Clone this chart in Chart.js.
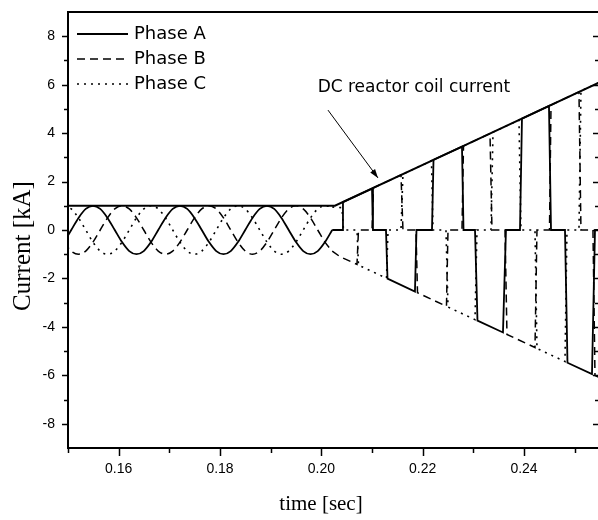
<!DOCTYPE html>
<html>
<head>
<meta charset="utf-8">
<script src="https://cdn.jsdelivr.net/npm/chart.js@4.4.0/dist/chart.umd.min.js"></script>
<style>
  html, body { margin: 0; padding: 0; background: #fff; overflow: hidden; }
  #wrap { position: relative; width: 602px; height: 520px; }
</style>
</head>
<body>
<div id="wrap"><canvas id="chart"></canvas></div>
<script>
// ============ Data ============
// pre-fault sinusoids share one time grid (s), 30 deg steps
const preTime = [
  0.14921, 0.15064, 0.15207, 0.15350, 0.15493, 0.15636, 0.15780, 0.15923, 0.16066, 0.16209,
  0.16352, 0.16495, 0.16638, 0.16781, 0.16924, 0.17067, 0.17210, 0.17353, 0.17496, 0.17640,
  0.17783, 0.17926, 0.18069, 0.18212, 0.18355, 0.18498, 0.18641, 0.18784, 0.18927, 0.19070,
  0.19213, 0.19356, 0.19500, 0.19643, 0.19786, 0.19929, 0.20072, 0.20215
];
const preA = [
  -0.5,
  0, 0.5, 0.87, 1, 0.87, 0.5, 0, -0.5, -0.87, -1, -0.87, -0.5,
  0, 0.5, 0.87, 1, 0.87, 0.5, 0, -0.5, -0.87, -1, -0.87, -0.5,
  0, 0.5, 0.87, 1, 0.87, 0.5, 0, -0.5, -0.87, -1, -0.87, -0.5,
  0
];
const preB = [
  -0.5,
  -0.87, -1, -0.87, -0.5, 0, 0.5, 0.87, 1, 0.87, 0.5, 0, -0.5,
  -0.87, -1, -0.87, -0.5, 0, 0.5, 0.87, 1, 0.87, 0.5, 0, -0.5,
  -0.87, -1, -0.87, -0.5, 0, 0.5, 0.87, 1, 0.87, 0.5, 0, -0.5,
  -0.87
];
const preC = [
  1,
  0.87, 0.5, 0, -0.5, -0.87, -1, -0.87, -0.5, 0, 0.5, 0.87, 1,
  0.87, 0.5, 0, -0.5, -0.87, -1, -0.87, -0.5, 0, 0.5, 0.87, 1,
  0.87, 0.5, 0, -0.5, -0.87, -1, -0.87, -0.5, 0, 0.5, 0.87, 1,
  0.95
];

// after the fault: phase currents commutate between +Idc, 0 and -Idc
const postTimeA = [
  0.20215, 0.20418, 0.20427, 0.21000, 0.21019, 0.21276, 0.21306, 0.21848, 0.21878, 0.22184,
  0.22214, 0.22776, 0.22806, 0.23033, 0.23082, 0.23585, 0.23644, 0.23921, 0.23960, 0.24493,
  0.24533, 0.24809, 0.24858, 0.25342, 0.25401, 0.25600
];
const postA = [
  0, 0, 1.15, 1.71, 0, 0, -2.01, -2.54, 0, 0,
  2.90, 3.44, 0, 0, -3.74, -4.23, 0, 0, 4.60, 5.12,
  0, 0, -5.48, -5.95, 0, 0
];
const postTimeB = [
  0.20215, 0.20368, 0.20704, 0.20733, 0.21000, 0.21029, 0.21572, 0.21611, 0.21868, 0.21898,
  0.22470, 0.22500, 0.22776, 0.22806, 0.23329, 0.23368, 0.23625, 0.23664, 0.24217, 0.24256,
  0.24503, 0.24533, 0.25085, 0.25124, 0.25361, 0.25401, 0.25600
];
const postB = [
  -0.87, -1.10, -1.42, 0, 0, 1.74, 2.27, 0, 0, -2.59,
  -3.15, 0, 0, 3.47, 3.98, 0, 0, -4.31, -4.85, 0,
  0, 5.16, 5.70, 0, 0, -6.01, -6.20
];
const postTimeC = [
  0.20215, 0.20408, 0.20437, 0.20704, 0.20733, 0.21286, 0.21316, 0.21572, 0.21611, 0.22174,
  0.22204, 0.22460, 0.22500, 0.23033, 0.23072, 0.23348, 0.23388, 0.23901, 0.23940, 0.24217,
  0.24256, 0.24809, 0.24848, 0.25085, 0.25124, 0.25600
];
const postC = [
  0.95, 0.92, 0, 0, -1.45, -1.99, 0, 0, 2.31, 2.86,
  0, 0, -3.18, -3.70, 0, 0, 4.04, 4.54, 0, 0,
  -4.89, -5.43, 0, 0, 5.74, 6.20
];

// DC reactor coil current
const dcTime = [0.1490, 0.20269, 0.22776, 0.2560];
const dcCurrent = [1.0, 1.0, 3.44, 6.20];

// axes
const xMajorTicks = [0.16, 0.18, 0.20, 0.22, 0.24];
const xTickLabels = ['0.16', '0.18', '0.20', '0.22', '0.24'];
const xMinorTicks = [0.15, 0.17, 0.19, 0.21, 0.23, 0.25];
const yMajorTicks = [-8, -6, -4, -2, 0, 2, 4, 6, 8];
const yTickLabels = ['-8', '-6', '-4', '-2', '0', '2', '4', '6', '8'];
const yMinorTicks = [-7, -5, -3, -1, 1, 3, 5, 7];

const phaseLabels = ['Phase A', 'Phase B', 'Phase C'];
const noteText = 'DC reactor coil current';

// ============ Helpers ============
function series(times, values) {
  return times.map((t, i) => ({ x: t, y: values[i] }));
}

const DASH_A = [];
const DASH_B = [8, 5];
const DASH_C = [2, 5];

const base = { borderColor: '#000', pointRadius: 0, fill: false, borderCapStyle: 'butt' };

const datasets = [
  { ...base, label: phaseLabels[0], data: series(preTime, preA), borderWidth: 1.8, borderDash: DASH_A, cubicInterpolationMode: 'monotone' },
  { ...base, label: phaseLabels[1], data: series(preTime, preB), borderWidth: 1.5, borderDash: DASH_B, cubicInterpolationMode: 'monotone' },
  { ...base, label: phaseLabels[2], data: series(preTime, preC), borderWidth: 1.6, borderDash: DASH_C, cubicInterpolationMode: 'monotone' },
  { ...base, label: '', data: series(postTimeA, postA), borderWidth: 1.8, borderDash: DASH_A, tension: 0 },
  { ...base, label: '', data: series(postTimeB, postB), borderWidth: 1.5, borderDash: DASH_B, tension: 0 },
  { ...base, label: '', data: series(postTimeC, postC), borderWidth: 1.6, borderDash: DASH_C, tension: 0 },
  { ...base, label: '', data: series(dcTime, dcCurrent), borderWidth: 2, tension: 0 }
];

// ============ Plugins ============
const framePlugin = {
  id: 'frame',
  afterDatasetsDraw(chart) {
    const { ctx: c, chartArea: a, scales: { x, y } } = chart;
    const seg = (x1, y1, x2, y2) => { c.beginPath(); c.moveTo(x1, y1); c.lineTo(x2, y2); c.stroke(); };
    c.save();
    c.strokeStyle = '#000';
    c.setLineDash([]);
    c.lineWidth = 2;
    c.strokeRect(a.left, a.top, a.right - a.left, a.bottom - a.top);

    c.lineWidth = 1.5;
    yMajorTicks.forEach(v => {
      const p = Math.round(y.getPixelForValue(v)) + 0.5;
      seg(a.left - 6, p, a.left, p);
      seg(a.right, p, a.right - 7, p);
    });
    yMinorTicks.forEach(v => {
      const p = Math.round(y.getPixelForValue(v)) + 0.5;
      seg(a.left - 4, p, a.left, p);
      seg(a.right, p, a.right - 5, p);
    });
    xMajorTicks.forEach(v => {
      const p = Math.round(x.getPixelForValue(v)) + 0.5;
      seg(p, a.bottom, p, a.bottom + 8);
    });
    xMinorTicks.forEach(v => {
      const p = Math.round(x.getPixelForValue(v)) + 0.5;
      seg(p, a.bottom, p, a.bottom + 5);
    });
    c.restore();
  }
};

const legendPlugin = {
  id: 'insideLegend',
  afterDatasetsDraw(chart) {
    const c = chart.ctx;
    const rows = chart.data.datasets.filter(d => d.label);
    c.save();
    c.font = '18px "DejaVu Sans"';
    c.textBaseline = 'middle';
    c.fillStyle = '#000';
    rows.forEach((ds, i) => {
      const yy = 34 + i * 25;
      c.beginPath();
      c.setLineDash(ds.borderDash || []);
      c.lineWidth = ds.borderWidth;
      c.strokeStyle = ds.borderColor;
      c.moveTo(77, yy);
      c.lineTo(128, yy);
      c.stroke();
      c.setLineDash([]);
      c.fillText(ds.label, 134, yy);
    });
    c.restore();
  }
};

// label + arrow pointing at the DC current ramp (data coordinates)
const notePos = { t: 0.19927, v: 5.70 };
const arrowFrom = { t: 0.20131, v: 4.95 };
const arrowTo = { t: 0.21118, v: 2.15 };

const notePlugin = {
  id: 'note',
  afterDatasetsDraw(chart) {
    const { ctx: c, scales: { x, y } } = chart;
    c.save();
    c.fillStyle = '#000';
    c.font = '17px "DejaVu Sans"';
    c.textBaseline = 'alphabetic';
    c.fillText(noteText, x.getPixelForValue(notePos.t), y.getPixelForValue(notePos.v));

    const x1 = x.getPixelForValue(arrowFrom.t), y1 = y.getPixelForValue(arrowFrom.v);
    const x2 = x.getPixelForValue(arrowTo.t), y2 = y.getPixelForValue(arrowTo.v);
    c.strokeStyle = '#000';
    c.lineWidth = 1;
    c.beginPath(); c.moveTo(x1, y1); c.lineTo(x2, y2); c.stroke();
    const ang = Math.atan2(y2 - y1, x2 - x1);
    const len = 9, half = 3;
    c.beginPath();
    c.moveTo(x2, y2);
    c.lineTo(x2 - len * Math.cos(ang) + half * Math.sin(ang), y2 - len * Math.sin(ang) - half * Math.cos(ang));
    c.lineTo(x2 - len * Math.cos(ang) - half * Math.sin(ang), y2 - len * Math.sin(ang) + half * Math.cos(ang));
    c.closePath();
    c.fill();
    c.restore();
  }
};

const titlePlugin = {
  id: 'axisTitles',
  afterDraw(chart) {
    const c = chart.ctx;
    c.save();
    c.fillStyle = '#000';
    c.font = '21px "Liberation Serif"';
    c.textAlign = 'center';
    c.textBaseline = 'alphabetic';
    c.fillText('time [sec]', 321, 510);
    c.translate(30, 246);
    c.rotate(-Math.PI / 2);
    c.font = '25px "Liberation Serif"';
    c.fillText('Current [kA]', 0, 0);
    c.restore();
  }
};

// ============ Chart ============
new Chart(document.getElementById('chart'), {
  type: 'line',
  data: { datasets },
  options: {
    responsive: true,
    maintainAspectRatio: false,
    animation: false,
    events: [],
    layout: { padding: { top: 12, right: 2, bottom: 0, left: 0 } },
    plugins: { legend: { display: false }, tooltip: { enabled: false } },
    scales: {
      x: {
        type: 'linear',
        min: 0.15,
        max: 0.255,
        grid: { display: false, drawTicks: false },
        border: { display: false },
        afterBuildTicks: s => { s.ticks = xMajorTicks.map(v => ({ value: v })); },
        afterFit: s => { s.height = 72; s.paddingLeft = 0; s.paddingRight = 0; },
        ticks: {
          autoSkip: false,
          maxRotation: 0,
          padding: 13,
          color: '#000',
          font: { family: '"Liberation Sans", Arial', size: 14 },
          callback: (v, i) => xTickLabels[i]
        }
      },
      y: {
        type: 'linear',
        min: -9,
        max: 9,
        grid: { display: false, drawTicks: false },
        border: { display: false },
        afterBuildTicks: s => { s.ticks = yMajorTicks.map(v => ({ value: v })); },
        afterFit: s => { s.width = 68; s.paddingTop = 0; s.paddingBottom = 0; },
        ticks: {
          autoSkip: false,
          padding: 13,
          color: '#000',
          font: { family: '"Liberation Sans", Arial', size: 14 },
          callback: (v, i) => yTickLabels[i]
        }
      }
    }
  },
  plugins: [framePlugin, legendPlugin, notePlugin, titlePlugin]
});
</script>
</body>
</html>
